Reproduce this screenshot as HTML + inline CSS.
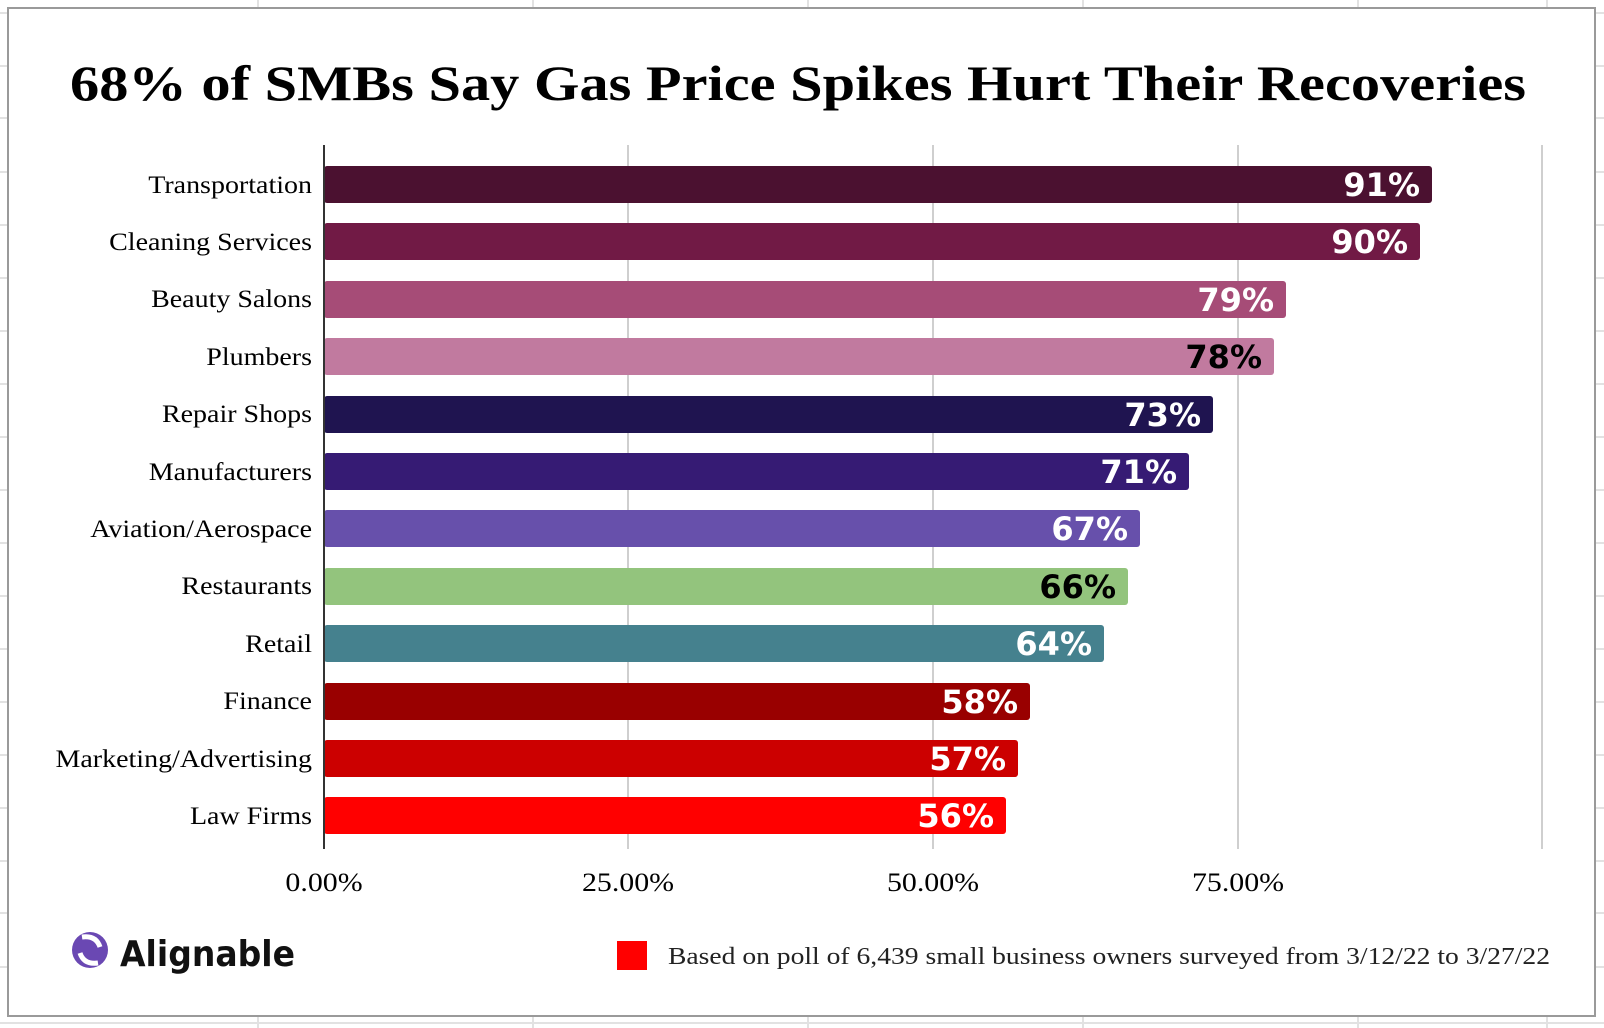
<!DOCTYPE html>
<html><head><meta charset="utf-8"><style>
html,body{margin:0;padding:0;background:#fff;}
svg{display:block;}
</style></head><body>
<svg width="1604" height="1028" viewBox="0 0 1604 1028" xmlns="http://www.w3.org/2000/svg">
<g stroke="#e2e2e2" stroke-width="2">
<line x1="0" y1="13" x2="1604" y2="13"/><line x1="0" y1="66" x2="1604" y2="66"/><line x1="0" y1="118" x2="1604" y2="118"/><line x1="0" y1="172" x2="1604" y2="172"/>
<line x1="0" y1="225" x2="1604" y2="225"/><line x1="0" y1="278" x2="1604" y2="278"/><line x1="0" y1="331" x2="1604" y2="331"/><line x1="0" y1="384" x2="1604" y2="384"/>
<line x1="0" y1="437" x2="1604" y2="437"/><line x1="0" y1="490" x2="1604" y2="490"/><line x1="0" y1="543" x2="1604" y2="543"/><line x1="0" y1="596" x2="1604" y2="596"/>
<line x1="0" y1="649" x2="1604" y2="649"/><line x1="0" y1="702" x2="1604" y2="702"/><line x1="0" y1="755" x2="1604" y2="755"/><line x1="0" y1="808" x2="1604" y2="808"/>
<line x1="0" y1="861" x2="1604" y2="861"/><line x1="0" y1="913" x2="1604" y2="913"/><line x1="0" y1="967" x2="1604" y2="967"/><line x1="0" y1="1023" x2="1604" y2="1023"/>
<line x1="258" y1="0" x2="258" y2="1028"/><line x1="533" y1="0" x2="533" y2="1028"/><line x1="808" y1="0" x2="808" y2="1028"/><line x1="1083" y1="0" x2="1083" y2="1028"/><line x1="1358" y1="0" x2="1358" y2="1028"/><line x1="1547" y1="0" x2="1547" y2="1028"/>
</g>
<rect x="8" y="8" width="1587" height="1008" fill="#fff" stroke="#9a9a9a" stroke-width="2"/>
<text x="70" y="100" textLength="1456" lengthAdjust="spacingAndGlyphs" font-family="Liberation Serif, serif" font-weight="bold" font-size="50" fill="#000">68% of SMBs Say Gas Price Spikes Hurt Their Recoveries</text>
<g stroke="#cfcfcf" stroke-width="2">
<line x1="628" y1="145" x2="628" y2="849"/><line x1="933" y1="145" x2="933" y2="849"/><line x1="1238" y1="145" x2="1238" y2="849"/><line x1="1542" y1="145" x2="1542" y2="849"/>
</g>
<g transform="translate(312,0) scale(1.12,1)" font-family="Liberation Serif, serif" font-size="25" fill="#000" text-anchor="end">
<text x="0" y="193">Transportation</text><text x="0" y="250">Cleaning Services</text><text x="0" y="307">Beauty Salons</text><text x="0" y="365">Plumbers</text>
<text x="0" y="422">Repair Shops</text><text x="0" y="480">Manufacturers</text><text x="0" y="537">Aviation/Aerospace</text><text x="0" y="594">Restaurants</text>
<text x="0" y="652">Retail</text><text x="0" y="709">Finance</text><text x="0" y="767">Marketing/Advertising</text><text x="0" y="824">Law Firms</text>
</g>
<g>
<rect x="324" y="166" width="1108" height="37" rx="3" fill="#4b1130"/>
<rect x="324" y="223" width="1096" height="37" rx="3" fill="#711a45"/>
<rect x="324" y="281" width="962" height="37" rx="3" fill="#a64c77"/>
<rect x="324" y="338" width="950" height="37" rx="3" fill="#c17a9f"/>
<rect x="324" y="396" width="889" height="37" rx="3" fill="#1f1450"/>
<rect x="324" y="453" width="865" height="37" rx="3" fill="#361b74"/>
<rect x="324" y="510" width="816" height="37" rx="3" fill="#6750ab"/>
<rect x="324" y="568" width="804" height="37" rx="3" fill="#93c47d"/>
<rect x="324" y="625" width="780" height="37" rx="3" fill="#45818e"/>
<rect x="324" y="683" width="706" height="37" rx="3" fill="#990000"/>
<rect x="324" y="740" width="694" height="37" rx="3" fill="#cc0000"/>
<rect x="324" y="797" width="682" height="37" rx="3" fill="#ff0000"/>
</g>
<line x1="324" y1="145" x2="324" y2="849" stroke="#333" stroke-width="2"/>
<g font-family="DejaVu Sans, sans-serif" font-weight="bold" font-size="32" text-anchor="end" fill="#fff">
<text x="1420" y="196">91%</text><text x="1408" y="253">90%</text><text x="1274" y="311">79%</text><text x="1262" y="368" fill="#000">78%</text>
<text x="1201" y="426">73%</text><text x="1177" y="483">71%</text><text x="1128" y="540">67%</text><text x="1116" y="598" fill="#000">66%</text>
<text x="1092" y="655">64%</text><text x="1018" y="713">58%</text><text x="1006" y="770">57%</text><text x="994" y="827">56%</text>
</g>
<g font-family="Liberation Serif, serif" font-size="26" fill="#000" text-anchor="middle">
<text transform="translate(324,891) scale(1.15,1)">0.00%</text>
<text transform="translate(628,891) scale(1.15,1)">25.00%</text>
<text transform="translate(933,891) scale(1.15,1)">50.00%</text>
<text transform="translate(1238,891) scale(1.15,1)">75.00%</text>
</g>
<g>
<circle cx="90" cy="950" r="18" fill="#6a48b3"/>
<path d="M82 937 q14 -2 18 10 M98 963 q-14 2 -18 -10" stroke="#fff" stroke-width="5" fill="none"/>
<text x="120" y="966" textLength="175" lengthAdjust="spacingAndGlyphs" font-family="DejaVu Sans, sans-serif" font-weight="bold" font-size="36" fill="#111">Alignable</text>
</g>
<rect x="617" y="941" width="30" height="29" fill="#ff0000"/>
<text x="668" y="964" textLength="882" lengthAdjust="spacingAndGlyphs" font-family="Liberation Serif, serif" font-size="24" fill="#222">Based on poll of 6,439 small business owners surveyed from 3/12/22 to 3/27/22</text>
</svg>
</body></html>
